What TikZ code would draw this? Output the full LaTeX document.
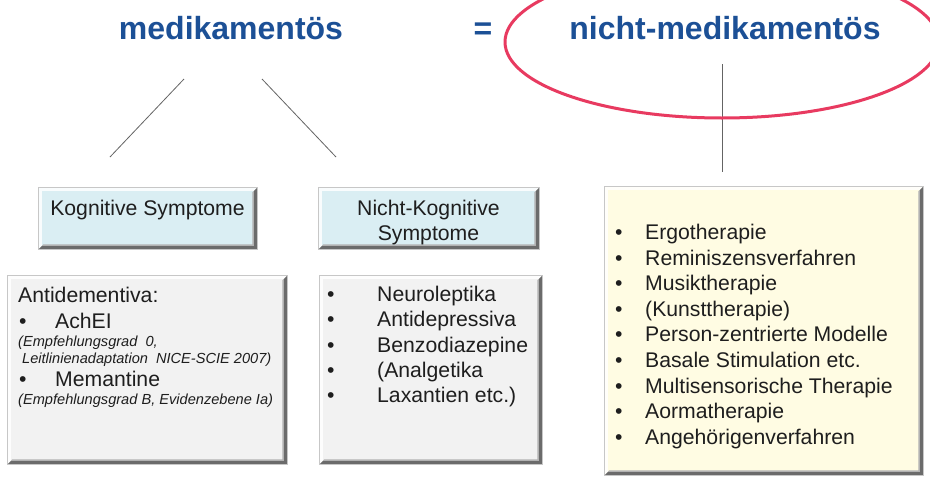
\documentclass[tikz,border=0pt]{standalone}
\usepackage{fontspec}
\setmainfont{Liberation Sans}
\definecolor{titleblue}{RGB}{28,80,150}
\definecolor{ellred}{RGB}{232,58,96}
\definecolor{boxblue}{RGB}{218,238,243}
\definecolor{boxgray}{RGB}{242,242,242}
\definecolor{boxyellow}{RGB}{255,252,227}
\definecolor{linegray}{RGB}{100,100,100}
\definecolor{txt}{RGB}{30,30,30}
\tikzset{
  bevelbox/.style={draw=black!22, line width=0.5pt, anchor=north west, inner sep=0pt,
    path picture={
      \fill[black!58] ([xshift=-3.5pt,yshift=-3.5pt]path picture bounding box.north east)
        -- (path picture bounding box.north east) -- (path picture bounding box.south east)
        -- (path picture bounding box.south west) -- ([xshift=3.5pt,yshift=3.5pt]path picture bounding box.south west)
        -- ([xshift=-3.5pt,yshift=3.5pt]path picture bounding box.south east) -- cycle;
      \fill[black!30] ([xshift=-5pt,yshift=-5pt]path picture bounding box.north east)
        -- ([xshift=-3.5pt,yshift=-3.5pt]path picture bounding box.north east)
        -- ([xshift=-3.5pt,yshift=3.5pt]path picture bounding box.south east)
        -- ([xshift=3.5pt,yshift=3.5pt]path picture bounding box.south west)
        -- ([xshift=5pt,yshift=5pt]path picture bounding box.south west)
        -- ([xshift=-5pt,yshift=5pt]path picture bounding box.south east) -- cycle;
      \fill[white,opacity=0.85] (path picture bounding box.south west) -- (path picture bounding box.north west)
        -- (path picture bounding box.north east) -- ([xshift=-3.5pt,yshift=-3.5pt]path picture bounding box.north east)
        -- ([xshift=3.5pt,yshift=-3.5pt]path picture bounding box.north west)
        -- ([xshift=3.5pt,yshift=3.5pt]path picture bounding box.south west) -- cycle;
    }},
  titletext/.style={font=\fontsize{32}{38}\selectfont\bfseries, text=titleblue, inner sep=0pt, anchor=base},
  bodytext/.style={font=\fontsize{21.2}{25.6}\selectfont, text=txt, inner sep=0pt, anchor=base west},
  centertext/.style={font=\fontsize{21.2}{25.6}\selectfont, text=txt, inner sep=0pt, anchor=base},
  smalltext/.style={font=\fontsize{14.6}{17}\selectfont\itshape, text=txt, inner sep=0pt, anchor=base west},
  connector/.style={draw=linegray, line width=0.8pt},
}
\begin{document}
\begin{tikzpicture}[x=1pt,y=-1pt]
\useasboundingbox (0,0) rectangle (930,477);
\clip (0,0) rectangle (930,477);
\fill[white] (0,0) rectangle (930,477);

% titles
\node[titletext] (med) at (231,39) {medikamentös};
\node[titletext] (eq) at (483,39) {=};
\node[titletext] (nmed) at (725,39) {nicht-medikamentös};

% connectors
\coordinate (l1a) at (184,79);
\coordinate (l1b) at (110,157);
\coordinate (l2a) at (262,79);
\coordinate (l2b) at (336,157);
\coordinate (l3a) at (722,64);
\coordinate (l3b) at (722,172);
\draw[connector] (l1a) -- (l1b);
\draw[connector] (l2a) -- (l2b);
\draw[connector] (l3a) -- (l3b);

% red ellipse
\draw[ellred, line width=3pt] (722,42) ellipse [x radius=217, y radius=76];

% boxes
\node[bevelbox, fill=boxblue, minimum width=219pt, minimum height=62pt] (kbox) at (38,187) {};
\node[bevelbox, fill=boxblue, minimum width=221pt, minimum height=62pt] (nkbox) at (318,187) {};
\node[bevelbox, fill=boxgray, minimum width=280pt, minimum height=189pt] (abox) at (7,275) {};
\node[bevelbox, fill=boxgray, minimum width=223pt, minimum height=189pt] (mbox) at (319,275) {};
\node[bevelbox, fill=boxyellow, minimum width=319pt, minimum height=289pt] (ybox) at (604,186) {};

% header texts
\node[centertext] (ktext) at (147.5,215) {Kognitive Symptome};
\node[centertext] (nktext1) at (428.5,215) {Nicht-Kognitive};
\node[centertext] (nktext2) at (428.5,240.5) {Symptome};

% left box
\node[bodytext] (anti) at (18,302) {Antidementiva:};
\node[bodytext] (b1) at (19,328) {\textbullet};
\node[bodytext] (ache) at (55,328) {AchEI};
\node[smalltext] (emp0) at (18,346) {(Empfehlungsgrad\ \ 0,};
\node[smalltext] (leit) at (22,363) {Leitlinienadaptation\ \ NICE-SCIE 2007)};
\node[bodytext] (b2) at (19,386) {\textbullet};
\node[bodytext] (mem) at (55,386) {Memantine};
\node[smalltext] (empb) at (18,404) {(Empfehlungsgrad B, Evidenzebene Ia)};

% middle list
\foreach \t [count=\i] in {{Neuroleptika},{Antidepressiva},{Benzodiazepine},{(Analgetika},{Laxantien etc.)}} {
  \node[bodytext] (mb\i) at (327,{301.5+25.3*(\i-1)}) {\textbullet};
  \node[bodytext] (mt\i) at (377,{301.5+25.3*(\i-1)}) {\t};
}

% right list
\foreach \t [count=\i] in {{Ergotherapie},{Reminiszensverfahren},{Musiktherapie},{(Kunsttherapie)},{Person-zentrierte Modelle},{Basale Stimulation etc.},{Multisensorische Therapie},{Aormatherapie},{Angehörigenverfahren}} {
  \node[bodytext] (rb\i) at (615,{239.5+25.6*(\i-1)}) {\textbullet};
  \node[bodytext] (rt\i) at (645,{239.5+25.6*(\i-1)}) {\t};
}
\end{tikzpicture}
\end{document}
